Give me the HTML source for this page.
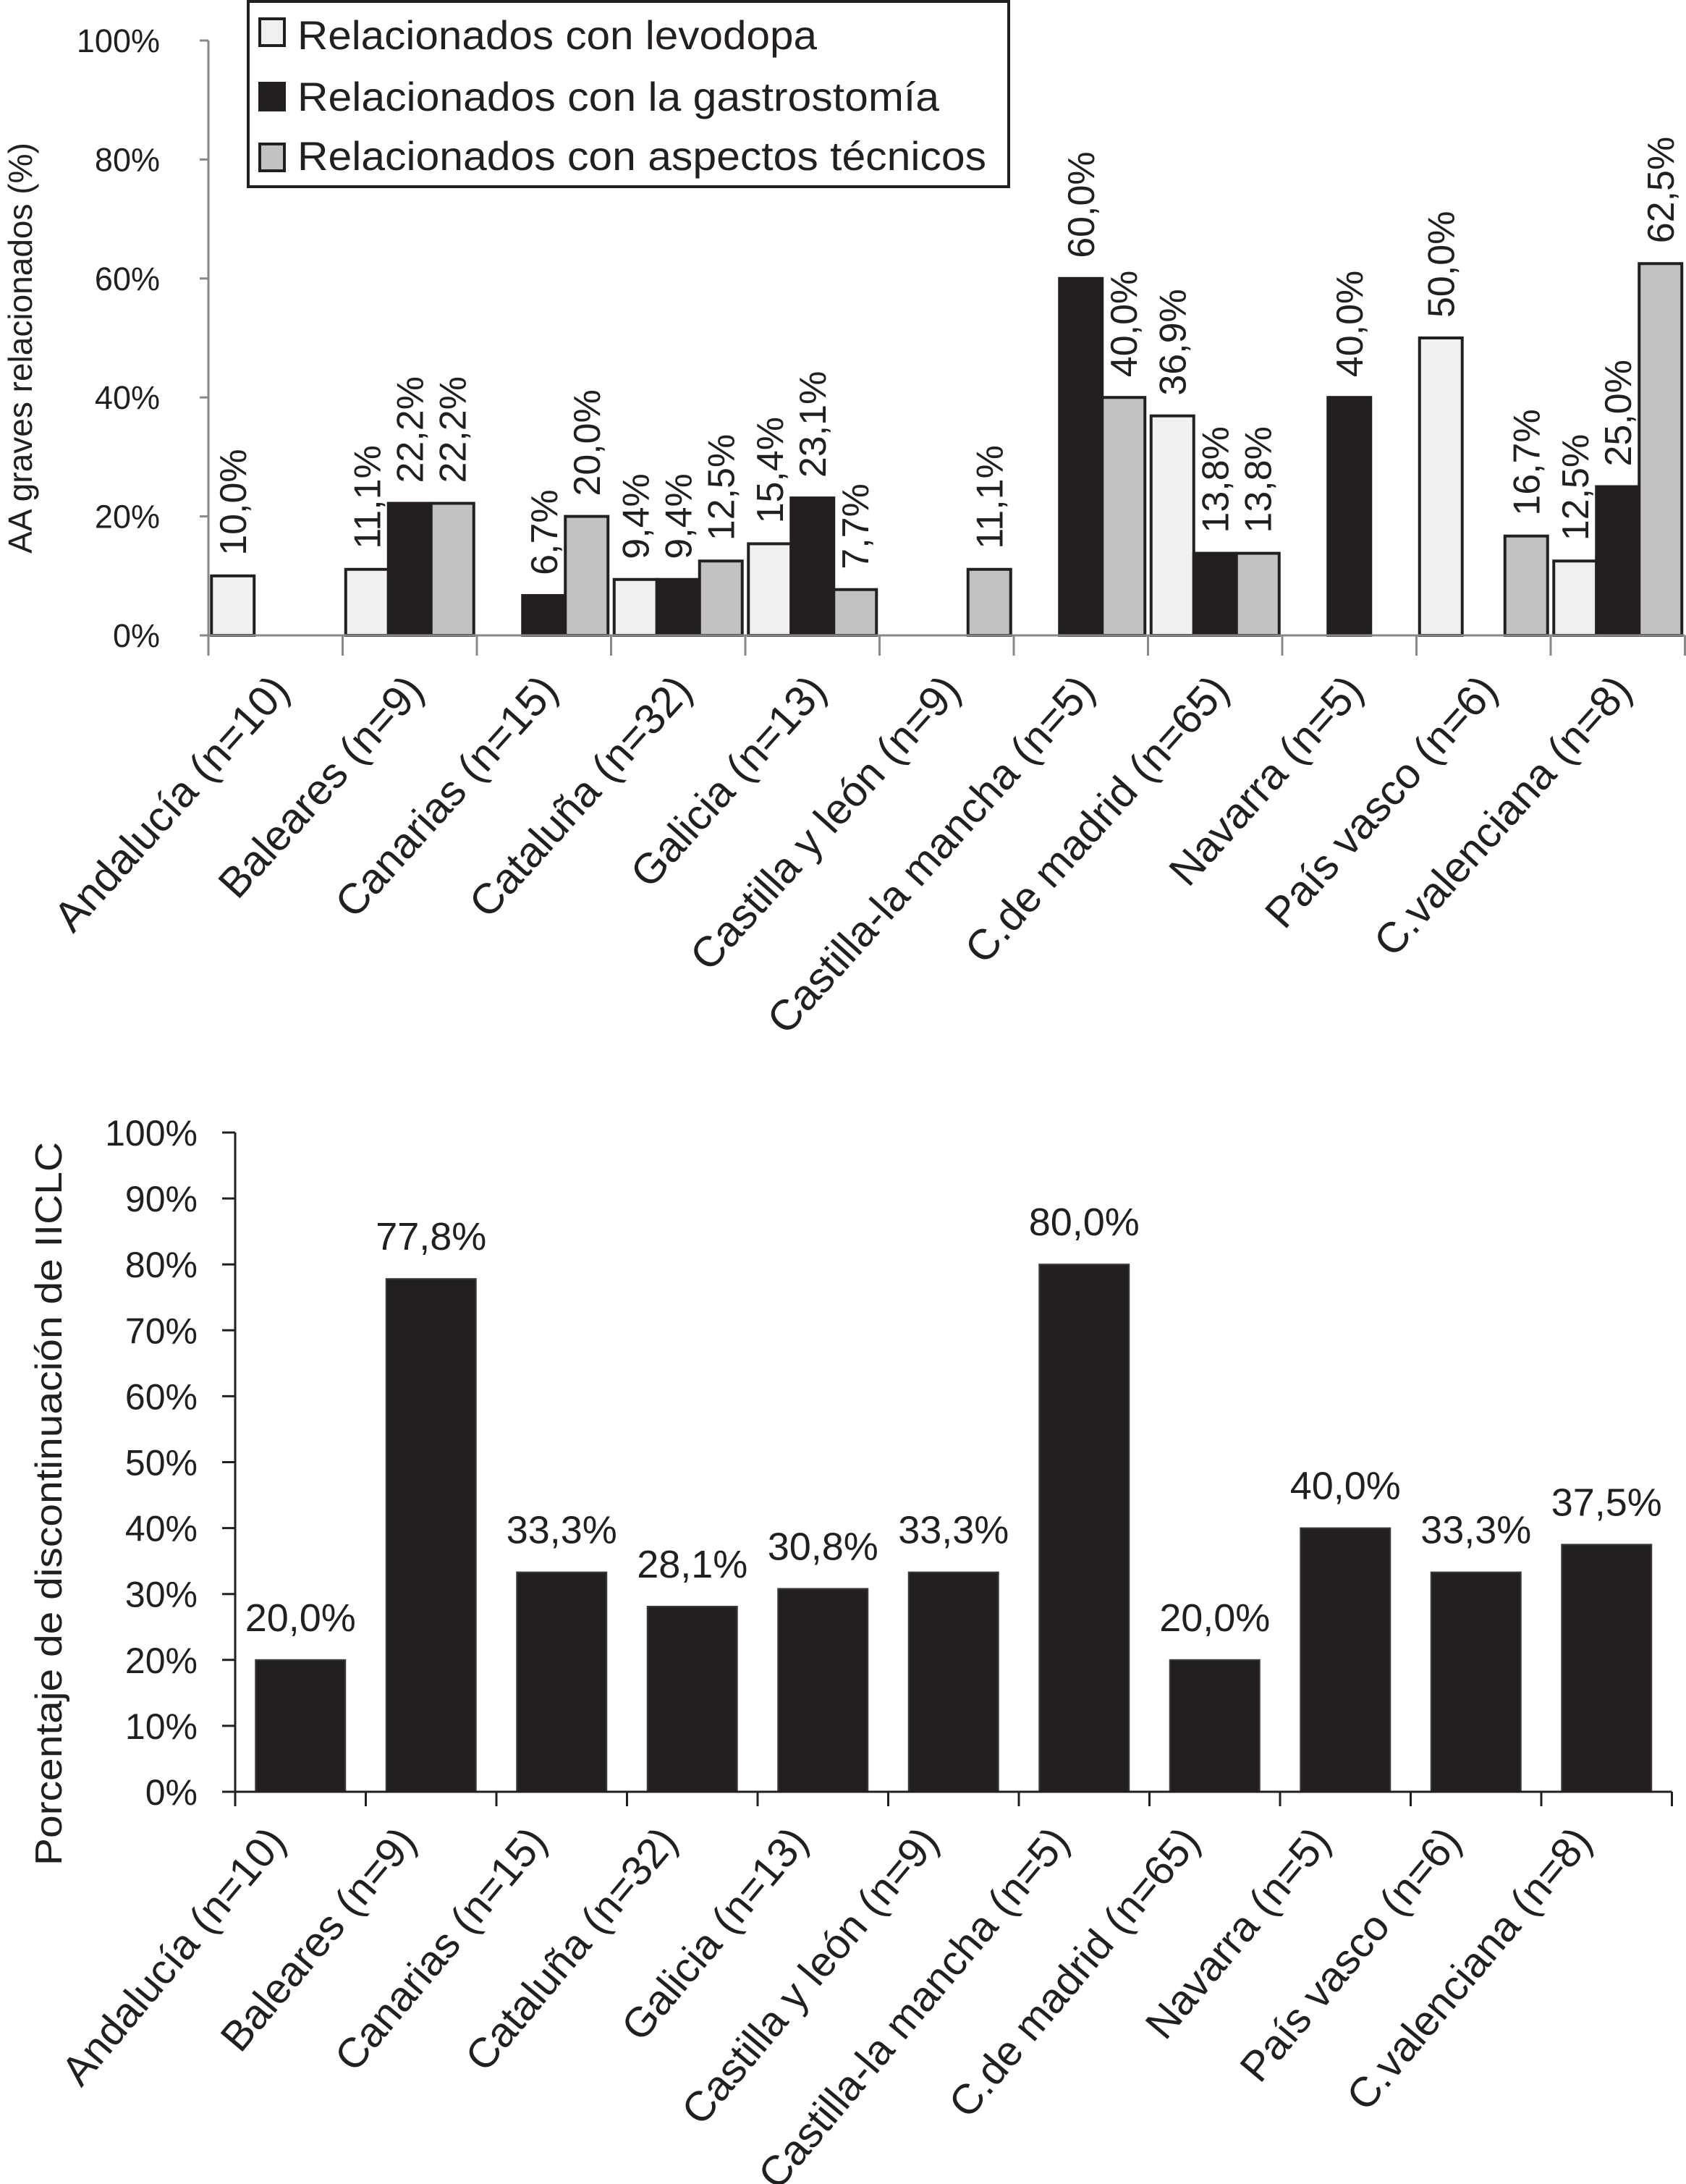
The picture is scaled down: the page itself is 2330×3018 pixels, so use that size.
<!DOCTYPE html>
<html><head><meta charset="utf-8"><style>
html,body{margin:0;padding:0;background:#fff}
svg{display:block}
text{font-family:"Liberation Sans",sans-serif;fill:#231f20}
</style></head><body>
<svg id="root" xmlns="http://www.w3.org/2000/svg" width="2330" height="3018" viewBox="0 0 2330 3018">
<g id="top"></g>
<g id="bot"></g>
</svg>
<script>
const categories = ["Andalucía (n=10)","Baleares (n=9)","Canarias (n=15)","Cataluña (n=32)","Galicia (n=13)","Castilla y león (n=9)","Castilla-la mancha (n=5)","C.de madrid (n=65)","Navarra (n=5)","País vasco (n=6)","C.valenciana (n=8)"];
const levodopa = [10.0,11.1,0,9.4,15.4,0,0,36.9,0,50.0,12.5];
const gastro = [0,22.2,6.7,9.4,23.1,0,60.0,13.8,40.0,0,25.0];
const tecnicos = [0,22.2,20.0,12.5,7.7,11.1,40.0,13.8,0,16.7,62.5];
const discont = [20.0,77.8,33.3,28.1,30.8,33.3,80.0,20.0,40.0,33.3,37.5];
const topTicks = [0,20,40,60,80,100];
const botTicks = [0,10,20,30,40,50,60,70,80,90,100];
const seriesNames = ["Relacionados con levodopa","Relacionados con la gastrostomía","Relacionados con aspectos técnicos"];

const NS="http://www.w3.org/2000/svg";
function mk(parent,tag,attrs,txt){const e=document.createElementNS(NS,tag);for(const k in attrs)e.setAttribute(k,attrs[k]);if(txt!==undefined)e.textContent=txt;parent.appendChild(e);return e;}
function fmt(v){return v.toFixed(1).replace('.',',')+'%';}

// ---- top chart ----
const T=document.getElementById('top');
const tx0=288, tstep=185.5, ty0=878, ty100=56;
const tY=v=>ty0-(ty0-ty100)*v/100;
const tX=i=>tx0+tstep*(i+0.5);
const fills=["#f0f0f0","#231f20","#c2c2c2"];
const series=[levodopa,gastro,tecnicos];
const bw=59;
series.forEach((arr,s)=>{
  arr.forEach((v,i)=>{
    if(v<=0) return;
    const cx=tX(i)+(s-1)*bw;
    const r=mk(T,'rect',{x:cx-bw/2,y:tY(v),width:bw,height:ty0-tY(v),fill:fills[s],stroke:'#231f20','stroke-width':4});
    
    
    const t=mk(T,'text',{x:0,y:0,'font-size':52,transform:`translate(${cx+18},${tY(v)-28}) rotate(-90)`},fmt(v));
    
    
  });
});
let ax=mk(T,'line',{x1:tx0,y1:ty100,x2:tx0,y2:ty0,stroke:'#888','stroke-width':3});


ax=mk(T,'line',{x1:tx0,y1:ty0,x2:tx0+tstep*11,y2:ty0,stroke:'#888','stroke-width':3});


topTicks.forEach(v=>{
  mk(T,'line',{x1:tx0-12,y1:tY(v),x2:tx0,y2:tY(v),stroke:'#888','stroke-width':3});
  const t=mk(T,'text',{x:221,y:tY(v)+16,'font-size':45,'text-anchor':'end'},v+'%');
  
  
});
for(let i=0;i<=11;i++) mk(T,'line',{x1:tx0+tstep*i,y1:ty0,x2:tx0+tstep*i,y2:ty0+28,stroke:'#888','stroke-width':3});
categories.forEach((c,i)=>{
  const t=mk(T,'text',{x:0,y:0,'font-size':59,'text-anchor':'end',transform:`translate(${tX(i)+22},${ty0+78}) rotate(-48)`},c);
  
  
});
let yt=mk(T,'text',{x:0,y:0,'font-size':46,'text-anchor':'middle',transform:'translate(44,481) rotate(-90)'},'AA graves relacionados (%)');


// legend
const L=mk(T,'g',{});


mk(L,'rect',{x:343,y:2,width:1051,height:256,fill:'#fff',stroke:'#231f20','stroke-width':4});
const lgY=[26,115,199], lgB=[68,153,235], lgW=[718,887,952];
seriesNames.forEach((n,s)=>{
  mk(L,'rect',{x:359,y:lgY[s],width:34,height:37,fill:fills[s],stroke:'#231f20','stroke-width':4});
  const t=mk(L,'text',{x:411,y:lgB[s],'font-size':56,textLength:lgW[s],lengthAdjust:'spacingAndGlyphs'},n);
  
  
});

// ---- bottom chart ----
const B=document.getElementById('bot');
const bx0=325, bstep=180.5, by0=2476, by100=1565;
const bY=v=>by0-(by0-by100)*v/100;
const bX=i=>bx0+bstep*(i+0.5);
discont.forEach((v,i)=>{
  const r=mk(B,'rect',{x:bX(i)-62,y:bY(v),width:124,height:by0-bY(v),fill:'#231f20',stroke:'#3a3a3a','stroke-width':2});
  
  
  const t=mk(B,'text',{x:bX(i),y:bY(v)-40,'font-size':54,'text-anchor':'middle'},fmt(v));
  
  
});
ax=mk(B,'line',{x1:bx0,y1:by100,x2:bx0,y2:by0,stroke:'#231f20','stroke-width':3});


ax=mk(B,'line',{x1:bx0,y1:by0,x2:bx0+bstep*11,y2:by0,stroke:'#231f20','stroke-width':3});


botTicks.forEach(v=>{
  mk(B,'line',{x1:bx0-18,y1:bY(v),x2:bx0,y2:bY(v),stroke:'#231f20','stroke-width':3});
  const t=mk(B,'text',{x:273,y:bY(v)+18,'font-size':50,'text-anchor':'end'},v+'%');
  
  
});
for(let i=0;i<=11;i++) mk(B,'line',{x1:bx0+bstep*i,y1:by0,x2:bx0+bstep*i,y2:by0+20,stroke:'#231f20','stroke-width':3});
categories.forEach((c,i)=>{
  const t=mk(B,'text',{x:0,y:0,'font-size':58,'text-anchor':'end',transform:`translate(${bX(i)-18},${by0+70}) rotate(-50)`},c);
  
  
});
yt=mk(B,'text',{x:0,y:0,'font-size':52,'text-anchor':'middle',textLength:1000,lengthAdjust:'spacingAndGlyphs',transform:'translate(85,2078) rotate(-90)'},'Porcentaje de discontinuación de IICLC');


</script>
</body></html>
